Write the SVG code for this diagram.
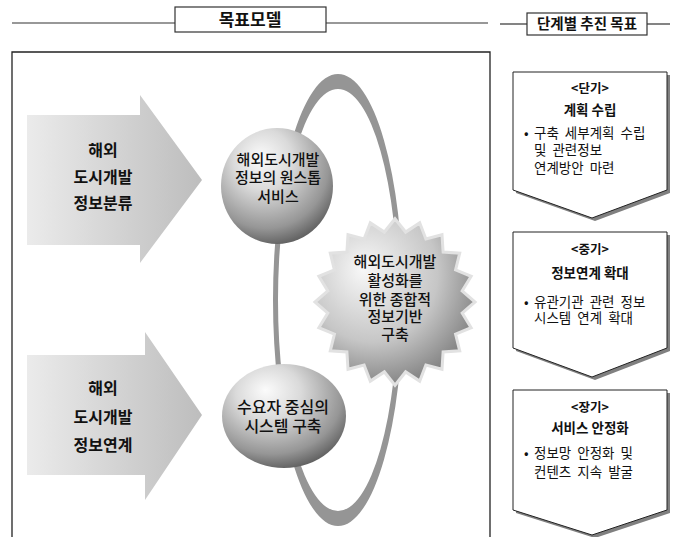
<svg xmlns="http://www.w3.org/2000/svg" width="676" height="537" viewBox="0 0 676 537">
<defs>
<linearGradient id="arrowGrad" x1="0" y1="0" x2="1" y2="0">
<stop offset="0" stop-color="#ebebeb"/>
<stop offset="1" stop-color="#bdbdbd"/>
</linearGradient>
<radialGradient id="sphereGrad" cx="0.42" cy="0.32" r="0.75" fx="0.35" fy="0.25">
<stop offset="0" stop-color="#fbfbfb"/>
<stop offset="0.35" stop-color="#dadada"/>
<stop offset="0.75" stop-color="#969696"/>
<stop offset="1" stop-color="#4e4e4e"/>
</radialGradient>
<radialGradient id="starGrad" cx="0.4" cy="0.35" r="0.75" fx="0.3" fy="0.3">
<stop offset="0" stop-color="#f8f8f8"/>
<stop offset="0.55" stop-color="#c6c6c6"/>
<stop offset="1" stop-color="#6f6f6f"/>
</radialGradient>
</defs>
<style>
text{font-family:"Noto Sans CJK KR","Liberation Sans",sans-serif;fill:#111;text-anchor:middle}
.frame{fill:none;stroke:#222;stroke-width:1.3}
.hline{stroke:#333;stroke-width:1.2}
.hbox{fill:#fff;stroke:#333;stroke-width:1.2}
.arrowtxt{font-size:16px;font-weight:bold}
.sph{font-size:15px;font-weight:500}
.stage{fill:#fff;stroke:#222;stroke-width:1}
.shadow{fill:#808080}
.st1{font-size:12.5px;font-weight:bold}
.st2{font-size:13.5px;font-weight:bold}
.bul{font-size:13.5px;text-anchor:start;word-spacing:3px}
</style>

<g id="header">
<line class="hline" x1="12" y1="23" x2="175" y2="23"/>
<line class="hline" x1="326" y1="23" x2="488" y2="23"/>
<rect class="hbox" x="175" y="7" width="151" height="25"/>
<text x="250" y="26" style="font-size:17px;font-weight:bold">목표모델</text>
<line class="hline" x1="500" y1="24" x2="527" y2="24"/>
<line class="hline" x1="647" y1="24" x2="670" y2="24"/>
<rect class="hbox" x="527" y="13" width="120" height="22"/>
<text x="587" y="29" style="font-size:14.5px;font-weight:bold">단계별 추진 목표</text>
</g>

<path class="frame" d="M12,545 V52 H490 V545"/>

<g id="arrow1">
<path d="M27,115 H140 V95 L202,180 L140,263 V245 H27 Z" fill="url(#arrowGrad)"/>
<text class="arrowtxt" x="103" y="156">해외</text>
<text class="arrowtxt" x="103" y="183">도시개발</text>
<text class="arrowtxt" x="103" y="209">정보분류</text>
</g>
<g id="arrow2">
<path d="M27,355 H145 V332 L202,415 L145,500 V475 H27 Z" fill="url(#arrowGrad)"/>
<text class="arrowtxt" x="103" y="394">해외</text>
<text class="arrowtxt" x="103" y="423">도시개발</text>
<text class="arrowtxt" x="103" y="451">정보연계</text>
</g>

<g id="connectors">
<path fill="#959595" fill-rule="evenodd" d="M273,300 a65,226 0 1,0 130,0 a65,226 0 1,0 -130,0 Z M278,300 a60,211 0 1,0 120,0 a60,211 0 1,0 -120,0 Z"/>
</g>

<g id="sphere1">
<ellipse cx="277" cy="186" rx="56" ry="58" fill="url(#sphereGrad)"/>
<text class="sph" x="278" y="165">해외도시개발</text>
<text class="sph" x="278" y="183">정보의 원스톱</text>
<text class="sph" x="278" y="202">서비스</text>
</g>

<g id="sphere2">
<ellipse cx="284" cy="416" rx="62" ry="52" fill="url(#sphereGrad)"/>
<text class="sph" x="283" y="413" style="font-size:16px">수요자 중심의</text>
<text class="sph" x="283" y="432" style="font-size:16px">시스템 구축</text>
</g>

<g id="star">
<path transform="translate(395,302) scale(1,1.04)" fill="url(#starGrad)" stroke="#e2e2e2" stroke-width="3" stroke-linejoin="miter" d="M0,-80 L10.6,-67.2 L24.7,-76.1 L30.9,-60.6 L47,-64.7 L48.1,-48.1 L64.7,-47 L60.6,-30.9 L76.1,-24.7 L67.2,-10.6 L80,0 L67.2,10.6 L76.1,24.7 L60.6,30.9 L64.7,47 L48.1,48.1 L47,64.7 L30.9,60.6 L24.7,76.1 L10.6,67.2 L0,80 L-10.6,67.2 L-24.7,76.1 L-30.9,60.6 L-47,64.7 L-48.1,48.1 L-64.7,47 L-60.6,30.9 L-76.1,24.7 L-67.2,10.6 L-80,0 L-67.2,-10.6 L-76.1,-24.7 L-60.6,-30.9 L-64.7,-47 L-48.1,-48.1 L-47,-64.7 L-30.9,-60.6 L-24.7,-76.1 L-10.6,-67.2 Z"/>
<text class="sph" x="395" y="267">해외도시개발</text>
<text class="sph" x="395" y="286">활성화를</text>
<text class="sph" x="395" y="305">위한 종합적</text>
<text class="sph" x="395" y="322">정보기반</text>
<text class="sph" x="395" y="340">구축</text>
</g>

<g id="stage1">
<path class="shadow" d="M516,75 H670 V193 L595,221 L516,193 Z"/>
<path class="stage" d="M513,72 H667 V190 L592,218 L513,190 Z"/>
<text class="st1" x="590" y="93">&lt;단기&gt;</text>
<text class="st2" x="590" y="115">계획 수립</text>
<text class="bul" x="524" y="138">•</text>
<text class="bul" x="534" y="138">구축 세부계획 수립</text>
<text class="bul" x="534" y="155">및 관련정보</text>
<text class="bul" x="534" y="173">연계방안 마련</text>
</g>

<g id="stage2">
<path class="shadow" d="M516,235 H670 V351 L595,380 L516,351 Z"/>
<path class="stage" d="M513,232 H667 V348 L592,377 L513,348 Z"/>
<text class="st1" x="590" y="254">&lt;중기&gt;</text>
<text class="st2" x="590" y="278">정보연계 확대</text>
<text class="bul" x="524" y="307">•</text>
<text class="bul" x="534" y="307">유관기관 관련 정보</text>
<text class="bul" x="534" y="323">시스템 연계 확대</text>
</g>

<g id="stage3">
<path class="shadow" d="M516,393 H670 V513 L595,538 L516,513 Z"/>
<path class="stage" d="M513,390 H667 V510 L592,535 L513,510 Z"/>
<text class="st1" x="590" y="412">&lt;장기&gt;</text>
<text class="st2" x="590" y="433">서비스 안정화</text>
<text class="bul" x="524" y="458">•</text>
<text class="bul" x="534" y="458">정보망 안정화 및</text>
<text class="bul" x="534" y="477">컨텐츠 지속 발굴</text>
</g>
</svg>
